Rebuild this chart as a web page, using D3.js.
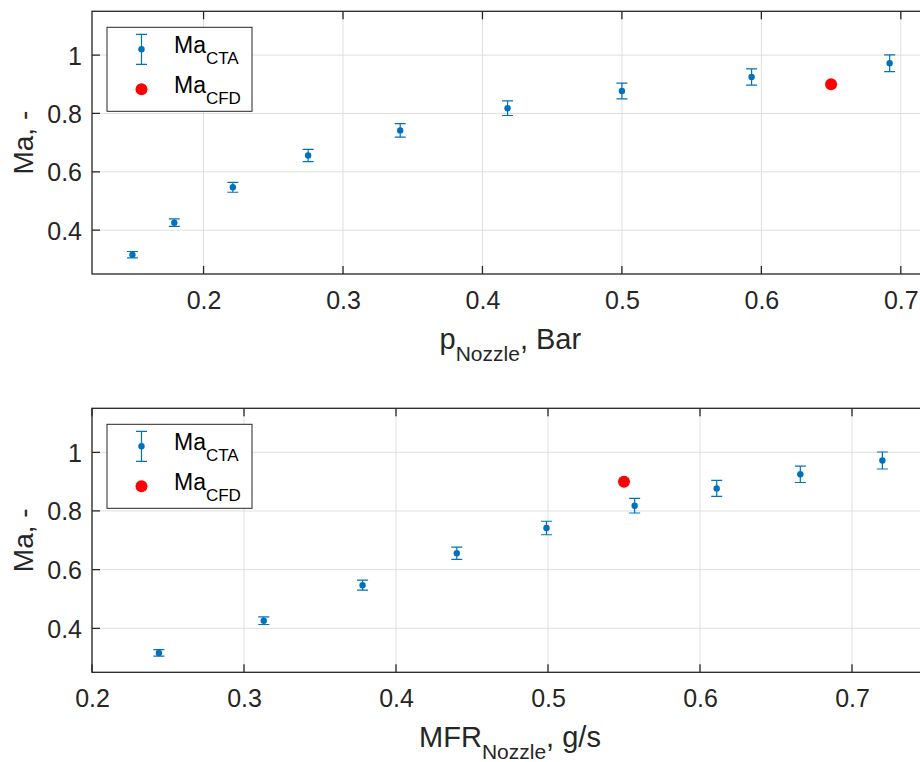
<!DOCTYPE html>
<html>
<head>
<meta charset="utf-8">
<script src="https://cdn.jsdelivr.net/npm/d3@7/dist/d3.min.js"></script>
<style>
  body { margin: 0; background: #fff; }
  svg { display: block; font-family: "Liberation Sans", Arial, Helvetica, sans-serif; }
</style>
</head>
<body>
<svg id="chart" width="920" height="762"></svg>
<script>
// data
const pNozzle   = [0.149, 0.179, 0.221, 0.275, 0.341, 0.418, 0.500, 0.593, 0.692];
const mfrNozzle = [0.244, 0.313, 0.378, 0.440, 0.499, 0.557, 0.611, 0.666, 0.720];
const maCTA     = [0.316, 0.426, 0.547, 0.656, 0.742, 0.818, 0.877, 0.925, 0.972];
const maErr     = [0.011, 0.013, 0.017, 0.021, 0.023, 0.025, 0.027, 0.028, 0.029];

const pCFD   = [0.65];
const mfrCFD = [0.55];
const maCFD  = [0.90];

const yTicks = [0.4, 0.6, 0.8, 1];
const xTicks = [0.2, 0.3, 0.4, 0.5, 0.6, 0.7];

const BLUE = '#0072bd', RED = '#ff0000', AX = '#262626', GRID = '#dfdfdf';

const svg = d3.select('#chart');

//++++++++++++++++++++++++++++++++++++++++++++++++++\\
//                    Panel                         \\
//++++++++++++++++++++++++++++++++++++++++++++++++++\\

function drawPanel(cfg) {
    const { top, bottom, left, right } = cfg.box;
    const x = d3.scaleLinear().domain(cfg.xDomain).range([left, right]);
    const y = d3.scaleLinear().domain([0.25, 1.15]).range([bottom, top]);
    const g = svg.append('g');
    const tl = 8; // tick length

    // grid
    g.selectAll('.gx').data(xTicks).enter().append('line')
        .attr('x1', d => x(d)).attr('x2', d => x(d))
        .attr('y1', top).attr('y2', bottom)
        .attr('stroke', GRID).attr('stroke-width', 1);
    g.selectAll('.gy').data(yTicks).enter().append('line')
        .attr('x1', left).attr('x2', right)
        .attr('y1', d => y(d)).attr('y2', d => y(d))
        .attr('stroke', GRID).attr('stroke-width', 1);

    // axes (inward ticks, box on)
    const axB = d3.axisBottom(x).tickValues(xTicks).tickSize(0).tickFormat(d3.format('.1f'));
    const axL = d3.axisLeft(y).tickValues(yTicks).tickSize(0).tickFormat(d => d === 1 ? '1' : d3.format('.1f')(d));

    const gb = g.append('g').attr('transform', `translate(0,${bottom})`).call(axB);
    gb.select('.domain').remove();
    gb.selectAll('text').attr('dy', 0).attr('y', 35).attr('fill', AX)
        .style('font-size', '25px').style('font-family', 'inherit');

    const gl = g.append('g').attr('transform', `translate(${left},0)`).call(axL);
    gl.select('.domain').remove();
    gl.selectAll('text').attr('x', -10).attr('dy', '0.36em').attr('fill', AX)
        .style('font-size', '25px').style('font-family', 'inherit');

    // tick marks on all four sides
    g.selectAll('.tb').data(xTicks).enter().append('path')
        .attr('d', d => `M${x(d)},${bottom}v${-tl}M${x(d)},${top}v${tl}`)
        .attr('stroke', AX).attr('stroke-width', 1.3);
    g.selectAll('.tl').data(yTicks).enter().append('path')
        .attr('d', d => `M${left},${y(d)}h${tl}M${right},${y(d)}h${-tl}`)
        .attr('stroke', AX).attr('stroke-width', 1.3);

    g.append('rect')
        .attr('x', left).attr('y', top)
        .attr('width', right - left).attr('height', bottom - top)
        .attr('fill', 'none').attr('stroke', AX).attr('stroke-width', 1.3);

    // error bars
    const cap = 5.5;
    const eb = g.append('g').selectAll('g').data(cfg.xs).enter().append('g');
    eb.append('path')
        .attr('d', (d, i) => {
            const cx = x(d), y0 = y(maCTA[i] - maErr[i]), y1 = y(maCTA[i] + maErr[i]);
            return `M${cx},${y0}V${y1}M${cx - cap},${y0}H${cx + cap}M${cx - cap},${y1}H${cx + cap}`;
        })
        .attr('fill', 'none').attr('stroke', BLUE).attr('stroke-width', 1.2);
    eb.append('circle')
        .attr('cx', d => x(d)).attr('cy', (d, i) => y(maCTA[i]))
        .attr('r', 3.2).attr('fill', BLUE);

    // CFD point
    g.append('g').selectAll('circle').data(cfg.cfd).enter().append('circle')
        .attr('cx', d => x(d)).attr('cy', (d, i) => y(maCFD[i]))
        .attr('r', 6).attr('fill', RED);

    // axis labels
    const xl = g.append('text')
        .attr('x', (left + right) / 2).attr('y', bottom + 75)
        .attr('text-anchor', 'middle').attr('fill', AX)
        .style('font-size', '29px');
    xl.append('tspan').text(cfg.xMain);
    xl.append('tspan').attr('dy', 12).style('font-size', '21px').text(cfg.xSub);
    xl.append('tspan').attr('dy', -12).text(', ' + cfg.xUnit);

    g.append('text')
        .attr('transform', `translate(33,${(top + bottom) / 2}) rotate(-90)`)
        .attr('text-anchor', 'middle').attr('fill', AX)
        .style('font-size', '28px')
        .text('Ma, -');

    // legend
    const lx = left + 15, ly = top + 16;
    const lg = g.append('g');
    lg.append('rect')
        .attr('x', lx).attr('y', ly).attr('width', 145).attr('height', 84)
        .attr('fill', '#fff').attr('stroke', AX).attr('stroke-width', 1);
    const ix = lx + 34.5;
    lg.append('path')
        .attr('d', `M${ix},${ly + 7}V${ly + 37}M${ix - cap},${ly + 7}H${ix + cap}M${ix - cap},${ly + 37}H${ix + cap}`)
        .attr('stroke', BLUE).attr('stroke-width', 1.2).attr('fill', 'none');
    lg.append('circle').attr('cx', ix).attr('cy', ly + 22).attr('r', 3.2).attr('fill', BLUE);
    lg.append('circle').attr('cx', ix).attr('cy', ly + 62).attr('r', 6).attr('fill', RED);

    [['Ma', 'CTA', 26], ['Ma', 'CFD', 65.5]].forEach(([m, s, by]) => {
        const t = lg.append('text').attr('x', lx + 67).attr('y', ly + by)
            .attr('fill', '#000').style('font-size', '23px');
        t.append('tspan').text(m);
        t.append('tspan').attr('dy', 11).style('font-size', '17px').text(s);
    });
}

drawPanel({
    box: { top: 11.3, bottom: 274, left: 92, right: 928.7 },
    xDomain: [0.12, 0.72],
    xs: pNozzle, cfd: pCFD,
    xMain: 'p', xSub: 'Nozzle', xUnit: 'Bar'
});

drawPanel({
    box: { top: 408.3, bottom: 672.3, left: 92, right: 928 },
    xDomain: [0.2, 0.75],
    xs: mfrNozzle, cfd: mfrCFD,
    xMain: 'MFR', xSub: 'Nozzle', xUnit: 'g/s'
});
</script>
</body>
</html>
